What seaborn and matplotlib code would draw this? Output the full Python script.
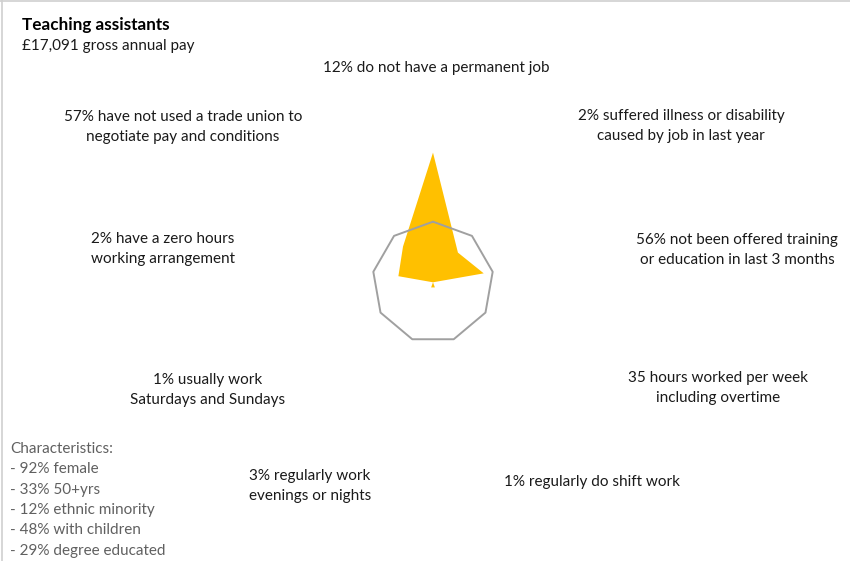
import numpy as np
import pandas as pd
import matplotlib
matplotlib.use("Agg")
import matplotlib.pyplot as plt
import seaborn as sns

# Spokes, clockwise from the top
spoke_labels = [
    "12% do not have a permanent job",
    "2% suffered illness or disability\ncaused by job in last year",
    "56% not been offered training\nor education in last 3 months",
    "35 hours worked per week\nincluding overtime",
    "1% regularly do shift work",
    "3% regularly work\nevenings or nights",
    "1% usually work\nSaturdays and Sundays",
    "2% have a zero hours\nworking arrangement",
    "57% have not used a trade union to\nnegotiate pay and conditions",
]
# Index relative to the all-jobs reference ring (ring = 1)
index_values = [2.14, 0.64, 0.85, 0.0, 0.09, 0.09, 0.0, 0.58, 0.77]
reference_ring = [1.0] * 9

title = "Teaching assistants"
subtitle = "£17,091 gross annual pay"
characteristics = [
    "Characteristics:",
    "- 92% female",
    "- 33% 50+yrs",
    "- 12% ethnic minority",
    "- 48% with children",
    "- 29% degree educated",
]

sns.set_theme(style="white")
plt.rcParams["font.family"] = ["Lato", "DejaVu Sans"]

W, H = 850, 561
fig = plt.figure(figsize=(W / 100, H / 100), dpi=100)
fig.patch.set_facecolor("white")

# Radar panel placement (pixel geometry)
cx, cy, unit = 433.0, 282.3, 60.6
rmax = 2.2
rad_px = rmax * unit
ax = fig.add_axes([(cx - rad_px) / W, (H - cy - rad_px) / H, 2 * rad_px / W, 2 * rad_px / H],
                  projection="polar")
ax.set_theta_zero_location("N")
ax.set_theta_direction(-1)
ax.set_ylim(0, rmax)

n = len(spoke_labels)
angles = np.arange(n) * 2 * np.pi / n
df = pd.DataFrame({"angle": np.append(angles, angles[0]),
                   "value": np.append(index_values, index_values[0]),
                   "ring": np.append(reference_ring, reference_ring[0])})

ax.fill(df["angle"], df["value"], color="#FFC000", lw=0, zorder=2)
sns.lineplot(data=df, x="angle", y="ring", sort=False, estimator=None,
             color="#A0A0A0", lw=1.4, ax=ax, zorder=3)

ax.set_xticks([])
ax.set_yticks([])
ax.grid(False)
ax.spines["polar"].set_visible(False)
ax.set_xlabel("")
ax.set_ylabel("")
ax.patch.set_alpha(0)

def px(x, y):
    return x / W, 1 - y / H

label_pos = [(436, 68), (681, 126), (737, 250), (718, 388), (592, 482),
             (310, 486), (208, 390), (163, 249), (183, 127)]
fs = 11
for text, (x, y) in zip(spoke_labels, label_pos):
    fig.text(*px(x, y), text, ha="center", va="center", fontsize=fs,
             color="#1a1a1a", linespacing=1.62)

fig.text(*px(22, 25), title, ha="left", va="center", fontsize=12.3,
         fontweight="bold", color="black")
fig.text(*px(22, 46), subtitle, ha="left", va="center", fontsize=fs, color="#1a1a1a")

for i, line in enumerate(characteristics):
    fig.text(*px(10, 449 + i * 20.3), line, ha="left", va="center",
             fontsize=fs, color="#606060")

# Thin frame on the top and left edges
fig.add_artist(plt.Line2D([0, 1], [1 - 0.5 / H, 1 - 0.5 / H], transform=fig.transFigure,
                          color="#D0D0D0", lw=1.2))
fig.add_artist(plt.Line2D([2 / W, 2 / W], [0, 1], transform=fig.transFigure,
                          color="#D0D0D0", lw=1.2))

fig.savefig("out.png", dpi=100, facecolor="white")
